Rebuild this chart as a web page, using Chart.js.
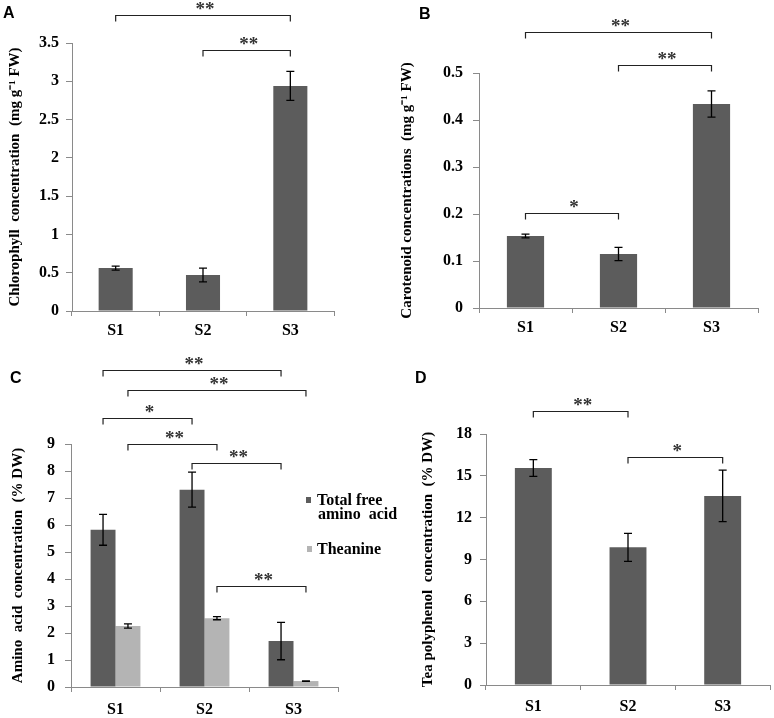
<!DOCTYPE html>
<html><head><meta charset="utf-8">
<script src="https://cdn.jsdelivr.net/npm/chart.js@4/dist/chart.umd.min.js"></script>
<style>
html,body{margin:0;padding:0;background:#fff;}
body{width:774px;height:718px;position:relative;overflow:hidden;}
canvas{position:absolute;}
.letter{position:absolute;font:bold 16px "Liberation Sans",Arial,sans-serif;line-height:16px;color:#000;}
.leg{position:absolute;font:bold 16px "Liberation Serif","Times New Roman",serif;line-height:16px;color:#000;white-space:pre;}
.sw{position:absolute;width:5px;height:6px;}
</style></head><body>
<canvas id="cA" width="387" height="340" style="left:0;top:0"></canvas>
<canvas id="cB" width="387" height="340" style="left:387px;top:0"></canvas>
<canvas id="cC" width="387" height="378" style="left:0;top:340px"></canvas>
<canvas id="cD" width="387" height="378" style="left:387px;top:340px"></canvas>
<div class="letter" style="left:3px;top:5px">A</div>
<div class="letter" style="left:419px;top:6px">B</div>
<div class="letter" style="left:10px;top:370px">C</div>
<div class="letter" style="left:415px;top:370px">D</div>
<div class="sw" style="left:306px;top:497px;background:#5c5c5c"></div>
<div class="leg" style="left:317px;top:492px">Total free</div>
<div class="leg" style="left:318px;top:506px">amino  acid</div>
<div class="sw" style="left:307px;top:546px;background:#b4b4b4"></div>
<div class="leg" style="left:317px;top:541px">Theanine</div>
<script>
// ---------- data ----------
const categories = ['S1', 'S2', 'S3'];
const chlorophyll = [0.56, 0.47, 2.94];
const chlorophyllErr = [0.025, 0.09, 0.19];
const carotenoid = [0.153, 0.115, 0.434];
const carotenoidErr = [0.004, 0.014, 0.028];
const totalFreeAminoAcid = [5.82, 7.31, 1.70];
const totalFreeAminoAcidErr = [0.57, 0.65, 0.69];
const theanine = [2.26, 2.55, 0.22];
const theanineErr = [0.08, 0.06, 0.01];
const teaPolyphenol = [15.56, 9.87, 13.56];
const teaPolyphenolErr = [0.6, 1.0, 1.85];
const yTicksA = [0, 0.5, 1, 1.5, 2, 2.5, 3, 3.5];
const yTicksB = [0, 0.1, 0.2, 0.3, 0.4, 0.5];
const yTicksC = [0, 1, 2, 3, 4, 5, 6, 7, 8, 9];
const yTicksD = [0, 3, 6, 9, 12, 15, 18];
// significance brackets: [dataset, category] -> [dataset, category], level (data units), label
const bracketsA = [[[0,0],[0,2],3.86,'**'], [[0,1],[0,2],3.41,'**']];
const bracketsB = [[[0,0],[0,2],0.588,'**'], [[0,1],[0,2],0.517,'**'], [[0,0],[0,1],0.202,'*']];
const bracketsC = [[[0,0],[0,2],11.73,'**'], [[1,0],[1,2],11.01,'**'], [[0,0],[0,1],9.96,'*'],
                   [[1,0],[1,1],9.01,'**'], [[0,1],[0,2],8.31,'**'], [[1,1],[1,2],3.74,'**']];
const bracketsD = [[[0,0],[0,1],19.66,'**'], [[0,1],[0,2],16.33,'*']];

// ---------- styling ----------
const AXIS = '#8a8a8a', DARK = '#5c5c5c', LIGHT = '#b4b4b4';
const SERIF = '"Liberation Serif","Times New Roman",serif';

function annotPlugin(errors, brackets) {
  return {
    id: 'annot',
    afterDatasetsDraw(chart) {
      const ctx = chart.ctx, y = chart.scales.y;
      ctx.save();
      ctx.strokeStyle = '#000'; ctx.lineWidth = 1.3;
      errors.forEach((errs, di) => {
        const meta = chart.getDatasetMeta(di);
        const vals = chart.data.datasets[di].data;
        errs.forEach((e, i) => {
          const x = meta.data[i].x;
          const yt = y.getPixelForValue(vals[i] + e), yb = y.getPixelForValue(vals[i] - e);
          ctx.beginPath();
          ctx.moveTo(x, yt); ctx.lineTo(x, yb);
          ctx.moveTo(x - 4, yt); ctx.lineTo(x + 4, yt);
          ctx.moveTo(x - 4, yb); ctx.lineTo(x + 4, yb);
          ctx.stroke();
        });
      });
      brackets.forEach(([a, b, level, label]) => {
        const x1 = chart.getDatasetMeta(a[0]).data[a[1]].x;
        const x2 = chart.getDatasetMeta(b[0]).data[b[1]].x;
        const py = Math.round(y.getPixelForValue(level)) + 0.5;
        ctx.strokeStyle = '#222'; ctx.lineWidth = 1.2;
        ctx.beginPath();
        ctx.moveTo(x1, py + 6); ctx.lineTo(x1, py); ctx.lineTo(x2, py); ctx.lineTo(x2, py + 6);
        ctx.stroke();
        ctx.fillStyle = '#333'; ctx.font = 'bold 19px ' + SERIF;
        ctx.textAlign = 'center'; ctx.textBaseline = 'alphabetic';
        ctx.fillText(label, (x1 + x2) / 2 + 2, py - 1);
      });
      ctx.restore();
    }
  };
}

function makeChart(id, cfg) {
  const datasets = cfg.series.map((s, i) => ({
    data: s, backgroundColor: cfg.colors[i], borderWidth: 0,
    barPercentage: cfg.barPct, categoryPercentage: cfg.catPct
  }));
  new Chart(document.getElementById(id), {
    type: 'bar',
    data: { labels: categories, datasets },
    options: {
      responsive: false, animation: false,
      layout: { padding: cfg.pad },
      plugins: { legend: { display: false }, tooltip: { enabled: false } },
      scales: {
        x: {
          grid: { display: true, drawOnChartArea: false, drawTicks: true, tickLength: 5, offset: true, color: AXIS },
          border: { color: AXIS, width: 1 },
          ticks: { color: '#000', font: { family: SERIF, size: 16, weight: 'bold' }, padding: cfg.xPad },
          afterFit: s => { s.height = cfg.xH; }
        },
        y: {
          min: cfg.ticks[0], max: cfg.ticks[cfg.ticks.length - 1],
          grid: { drawOnChartArea: false, drawTicks: true, tickLength: 6, color: AXIS },
          border: { color: AXIS, width: 1 },
          ticks: { color: '#000', font: { family: SERIF, size: 16, weight: 'bold' }, padding: cfg.yPad,
                   callback: v => String(v) },
          afterBuildTicks: s => { s.ticks = cfg.ticks.map(v => ({ value: v })); },
          title: { display: true, text: cfg.title, color: '#000',
                   font: { family: SERIF, size: 15, weight: 'bold' }, padding: { top: cfg.tPad, bottom: 0 } },
          afterFit: s => { s.width = cfg.yW; }
        }
      }
    },
    plugins: [annotPlugin(cfg.errors, cfg.brackets)]
  });
}

makeChart('cA', {
  series: [chlorophyll], errors: [chlorophyllErr], colors: [DARK], brackets: bracketsA,
  ticks: yTicksA, title: 'Chlorophyll  concentration  (mg g\u207B\u00B9 FW)',
  barPct: 0.39, catPct: 1, pad: { left: 0, top: 43, right: 53, bottom: 0 },
  yW: 72, xH: 29, xPad: 5, yPad: 7, tPad: 6
});
makeChart('cB', {
  series: [carotenoid], errors: [carotenoidErr], colors: [DARK], brackets: bracketsB,
  ticks: yTicksB, title: 'Carotenoid concentrations  (mg g\u207B\u00B9 FW)',
  barPct: 0.40, catPct: 1, pad: { left: 0, top: 73, right: 16, bottom: 0 },
  yW: 92, xH: 32, xPad: 5, yPad: 10, tPad: 11
});
makeChart('cC', {
  series: [totalFreeAminoAcid, theanine], errors: [totalFreeAminoAcidErr, theanineErr],
  colors: [DARK, LIGHT], brackets: bracketsC,
  ticks: yTicksC, title: 'Amino  acid  concentration  (% DW)',
  barPct: 1, catPct: 0.56, pad: { left: 0, top: 104, right: 49, bottom: 0 },
  yW: 71, xH: 31, xPad: 8, yPad: 10, tPad: 9
});
makeChart('cD', {
  series: [teaPolyphenol], errors: [teaPolyphenolErr], colors: [DARK], brackets: bracketsD,
  ticks: yTicksD, title: 'Tea polyphenol  concentration  (% DW)',
  barPct: 0.39, catPct: 1, pad: { left: 0, top: 94, right: 4, bottom: 0 },
  yW: 99, xH: 33, xPad: 7, yPad: 8, tPad: 32
});
</script>
</body></html>
